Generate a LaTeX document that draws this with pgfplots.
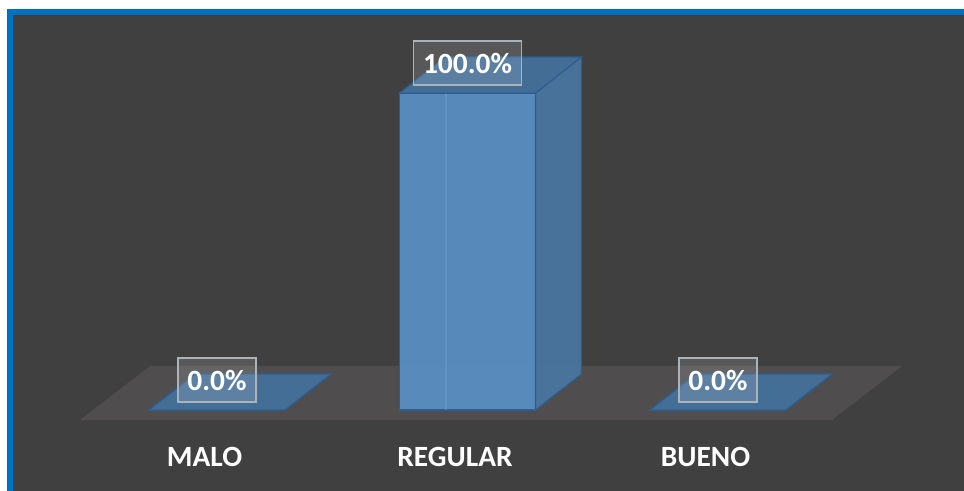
\documentclass[border=0pt]{standalone}
\usepackage{pgfplots}
\pgfplotsset{compat=1.18}
\usepackage{pgfplotstable}
\usepackage{fontspec}
\setmainfont{Carlito}
\definecolor{bg}{HTML}{404040}
\definecolor{framec}{HTML}{0070C0}
\definecolor{floorc}{HTML}{4F4D4D}
\definecolor{frontc}{HTML}{5A8FC5}
\definecolor{sidec}{HTML}{4A76A2}
\definecolor{topc}{HTML}{44729F}
\definecolor{edgec}{HTML}{2C5E8F}
\definecolor{boxc}{HTML}{AAB2BA}
\definecolor{stripec}{HTML}{6A9FD2}

\pgfplotstableread{
x value
0 0
1 100
2 0
}\datatable

\pgfdeclareplotmark{bartop}{%
  \pgfpathmoveto{\pgfqpoint{-68bp}{0bp}}%
  \pgfpathlineto{\pgfqpoint{-22bp}{36bp}}%
  \pgfpathlineto{\pgfqpoint{114bp}{36bp}}%
  \pgfpathlineto{\pgfqpoint{68bp}{0bp}}%
  \pgfpathclose
  \pgfusepathqfillstroke}
\pgfdeclareplotmark{barside}{%
  \pgfmathsetlengthmacro\barh{\barval*3.17bp}%
  \pgfpathmoveto{\pgfpoint{68bp}{0bp}}%
  \pgfpathlineto{\pgfpoint{114bp}{36bp}}%
  \pgfpathlineto{\pgfpoint{114bp}{36bp-\barh}}%
  \pgfpathlineto{\pgfpoint{68bp}{-\barh}}%
  \pgfpathclose
  \pgfusepathqfillstroke}

\begin{document}
\begin{tikzpicture}
\path[use as bounding box, clip] (0,0) rectangle (964bp,491bp);
\fill[white] (0,0) rectangle (964bp,491bp);
\fill[framec] (7bp,-10bp) rectangle (990bp,482bp);
\fill[bg] (13bp,-10bp) rectangle (990bp,476bp);
% floor
\fill[floorc] (80bp,71bp) -- (832bp,71bp) -- (902bp,125bp) -- (150bp,125bp) -- cycle;
\begin{axis}[
  at={(91.75bp,81bp)}, anchor=south west,
  scale only axis, width=751.5bp, height=317bp,
  xmin=-0.5, xmax=2.5, ymin=0, ymax=100,
  clip=false,
  axis line style={draw=none}, tick style={draw=none},
  major tick length=0pt,
  xtick={0,1,2}, xticklabels={MALO,REGULAR,BUENO},
  ytick=\empty,
  xticklabel style={font=\fontsize{29.5}{32}\selectfont\bfseries, text=white,
    anchor=center, xshift=-12.5bp, yshift=-46.5bp},
]
% side faces
\addplot[only marks, mark=barside,
  visualization depends on={\thisrow{value}\as\barval},
  mark options={solid, fill=sidec, draw=edgec, line width=1.2bp, fill opacity=0.93}]
  table[x=x, y=value]{\datatable};
% top faces
\addplot[only marks, mark=bartop,
  mark options={solid, fill=topc, draw=edgec, line width=1.2bp, fill opacity=0.9}]
  table[x=x, y=value]{\datatable};
% front faces
\addplot[ybar, bar width=136bp, fill=frontc, draw=edgec, line width=1.2bp, fill opacity=0.93]
  table[x=x, y=value]{\datatable};
% subtle highlight stripe on the front faces
\addplot[ybar, bar width=2bp, bar shift=-21.5bp, fill=stripec, draw=none, fill opacity=0.45]
  table[x=x, y=value]{\datatable};
% labels
\addplot[only marks, mark=none, point meta=y,
  nodes near coords={\pgfmathprintnumber[fixed, fixed zerofill, precision=1, assume math mode=true]{\pgfplotspointmeta}\%},
  nodes near coords style={anchor=center, yshift=30bp, text=white, draw=boxc, line width=1.3bp,
    fill=white, fill opacity=0.13, text opacity=1, inner xsep=9.5bp, inner ysep=0pt,
    minimum height=44bp, font=\fontsize{29.5}{32}\selectfont\bfseries}]
  table[x=x, y=value]{\datatable};
\end{axis}
\end{tikzpicture}
\end{document}
